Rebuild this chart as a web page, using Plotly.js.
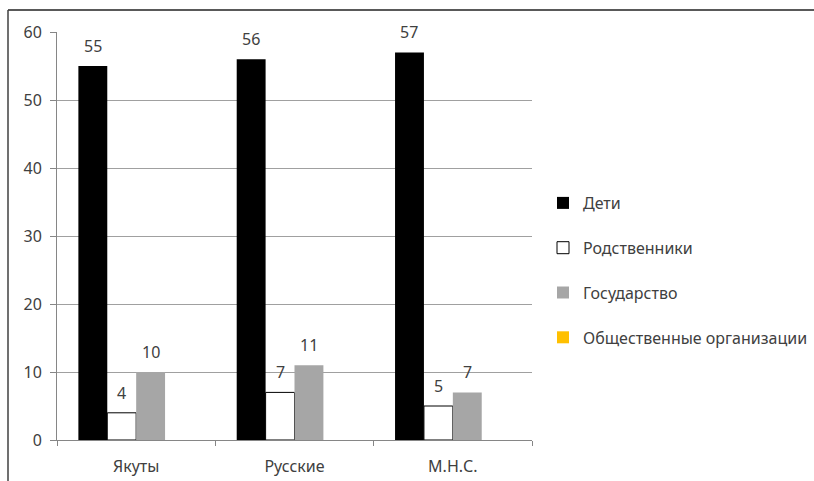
<!DOCTYPE html>
<html><head><meta charset="utf-8">
<script src="https://cdn.plot.ly/plotly-3.0.1.min.js"></script>
<style>body{margin:0;background:#fff}#c{width:814px;height:481px}</style>
</head><body><div id="c"></div>
<script>
const categories = ['Якуты', 'Русские', 'М.Н.С.'];
const seriesNames = ['Дети', 'Родственники', 'Государство', 'Общественные организации'];
const deti = [55, 56, 57];
const rodstvenniki = [4, 7, 5];
const gosudarstvo = [10, 11, 7];
const obshchestvennye = [0, 0, 0];
const yTicks = [0, 10, 20, 30, 40, 50, 60];

const values = [deti, rodstvenniki, gosudarstvo, obshchestvennye];
const fills = ['#000000', '#ffffff', '#a6a6a6', '#ffc000'];
const lines = ['#000000', '#000000', '#a6a6a6', '#ffc000'];
const showLabel = [true, true, true, false];
const txt = '#404040';
const FONT = '"Noto Sans", "Open Sans", sans-serif';

const traces = values.map((v, i) => ({
  type: 'bar', name: seriesNames[i], x: categories, y: v,
  marker: {color: fills[i], line: {color: lines[i], width: i === 1 ? 1 : 0}},
  legendgroup: 'g' + i, hoverinfo: 'skip'
}));

const W = 814, H = 481, mL = 57, mR = 282, mT = 32, mB = 41;
const plotW = W - mL - mR;
const bargap = 0.27;
const barW = plotW / categories.length * (1 - bargap) / values.length;

const annotations = [];
values.forEach((v, i) => {
  if (!showLabel[i]) return;
  v.forEach((val, j) => annotations.push({
    x: categories[j], y: val, xref: 'x', yref: 'y', text: String(val),
    showarrow: false, xshift: (i - 1.5) * barW, yshift: 20, yanchor: 'middle',
    font: {family: FONT, size: 16, color: txt}
  }));
});

const plotH = H - mT - mB;
const pxX = p => (p - mL) / plotW;
const pxY = p => (H - mB - p) / plotH;
const shapes = [
  {type: 'line', xref: 'paper', yref: 'paper', x0: pxX(8), x1: pxX(830), y0: pxY(10), y1: pxY(10), line: {color: '#595959', width: 2}},
  {type: 'line', xref: 'paper', yref: 'paper', x0: pxX(8), x1: pxX(8), y0: pxY(10), y1: pxY(500), line: {color: '#404040', width: 1.5}}
];

const layout = {
  width: W, height: H, margin: {l: mL, r: mR, t: mT, b: mB, autoexpand: false},
  paper_bgcolor: '#fff', plot_bgcolor: '#fff',
  barmode: 'group', bargap: bargap, bargroupgap: 0,
  font: {family: FONT, size: 16, color: txt},
  showlegend: true,
  legend: {x: pxX(543), y: pxY(186), xanchor: 'left', yanchor: 'top',
    traceorder: 'grouped', tracegroupgap: 21, font: {family: FONT, size: 16, color: txt},
    bgcolor: 'rgba(0,0,0,0)', itemwidth: 30},
  xaxis: {type: 'category', tickson: 'boundaries', ticks: 'outside', ticklen: 5, tickcolor: '#868686',
    showline: true, linecolor: '#868686', linewidth: 1, showgrid: false, fixedrange: true,
    ticklabelstandoff: 12,
    tickfont: {family: FONT, size: 16, color: txt}},
  yaxis: {range: [0, 60], tickvals: yTicks, ticktext: yTicks.map(String), ticks: 'outside', ticklen: 6,
    tickcolor: '#868686', showline: true, linecolor: '#868686', linewidth: 1,
    showgrid: true, gridcolor: '#a0a0a0', gridwidth: 1, zeroline: false, fixedrange: true,
    ticklabelstandoff: 5,
    tickfont: {family: FONT, size: 16, color: txt}},
  annotations: annotations, shapes: shapes
};

Plotly.newPlot('c', traces, layout, {displayModeBar: false, staticPlot: true});
</script></body></html>
